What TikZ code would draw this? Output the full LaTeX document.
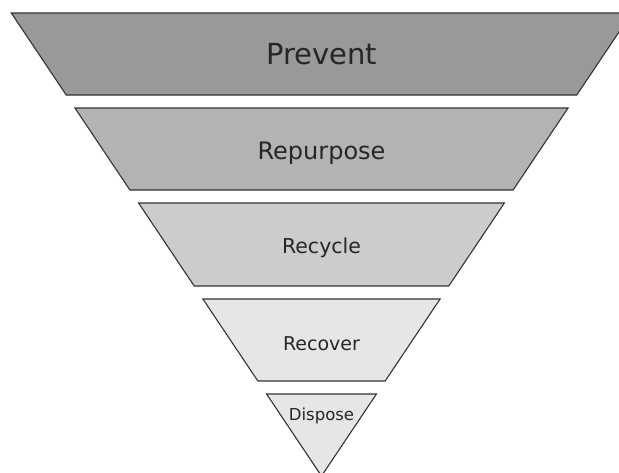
\documentclass[tikz,border=0pt]{standalone}
\usepackage{fontspec}
\setmainfont{DejaVu Sans}
\definecolor{preventfill}{HTML}{999999}
\definecolor{repurposefill}{HTML}{B3B3B3}
\definecolor{recyclefill}{HTML}{CCCCCC}
\definecolor{recoverfill}{HTML}{E6E6E6}
\definecolor{edgegray}{HTML}{333333}
\tikzset{
    layer/.style={draw=edgegray, line width=1.1pt, line join=miter},
    lbl/.style={anchor=base, text=black!85, inner sep=0pt}
}
\begin{document}
\begin{tikzpicture}[x=1pt, y=-1pt]
        \useasboundingbox (0,0) rectangle (619,472);
        % apex of the funnel at (321.5,476), half width = 0.67*(476-y)

        % Draw the four trapezoid layers
        \foreach \t/\b/\col in {13/95/preventfill, 108/190/repurposefill, 203/286/recyclefill, 299/381/recoverfill}
            \filldraw[layer, fill=\col] ({321.5-0.67*(476-\t)},\t) -- ({321.5+0.67*(476-\t)},\t)
                -- ({321.5+0.67*(476-\b)},\b) -- ({321.5-0.67*(476-\b)},\b) -- cycle;

        % Draw the bottom triangle
        \filldraw[layer, fill=recoverfill] ({321.5-0.67*(476-394)},394) -- ({321.5+0.67*(476-394)},394) -- (321.5,476) -- cycle;

        % Add labels
        \node[lbl, font=\fontsize{29}{34}\selectfont] (prevent) at (321.5,64) {Prevent};
        \node[lbl, font=\fontsize{24}{29}\selectfont] (repurpose) at (321.5,159) {Repurpose};
        \node[lbl, font=\fontsize{20.5}{25}\selectfont] (recycle) at (321.5,253) {Recycle};
        \node[lbl, font=\fontsize{19}{23}\selectfont] (recover) at (321.5,350) {Recover};
        \node[lbl, font=\fontsize{16.5}{20}\selectfont] (dispose) at (321.5,420) {Dispose};
\end{tikzpicture}
\end{document}
